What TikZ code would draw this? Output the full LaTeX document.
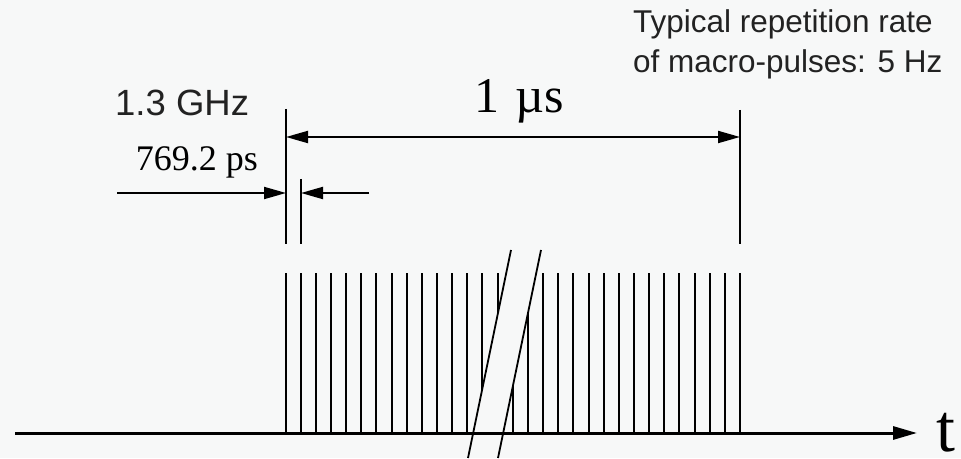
\documentclass[tikz,border=0pt]{standalone}
\usepackage{fontspec}
\setmainfont{Liberation Serif}
\newfontfamily\arialfont{Liberation Sans}
\usetikzlibrary{arrows.meta}
\definecolor{bgcol}{HTML}{F7F8F8}
\definecolor{txtgray}{HTML}{222222}
\tikzset{
  pulse/.style={line width=2pt},
  extline/.style={line width=2.3pt},
  dimline/.style={line width=2pt},
  sanslabel/.style={inner sep=0pt, text=txtgray, font=\arialfont\fontsize{36.5}{40}\selectfont},
  seriflabel/.style={inner sep=0pt, font=\fontsize{36}{40}\selectfont}
}
\begin{document}
\begin{tikzpicture}[x=1pt, y=1pt, >={Triangle[length=22pt,width=12pt]}]
	% 1. background and frame
	\fill[bgcol] (0,0) rectangle (961,458);
	\useasboundingbox (0,0) rectangle (961,458);
	
	% 2. pulse train (31 bunches)
	\foreach \i in {0,...,30}{
		\draw[pulse] ({285.5+15.15*\i},25) -- ({285.5+15.15*\i},185);
	}
	
	% 3. break of the train
	\fill[bgcol] (511,208) -- (541,208) -- (498,0) -- (468,0) -- cycle;
	
	% 4. time axis
	\coordinate (t0) at (15,25);
	\coordinate (t1) at (917,25);
	\draw[line width=3pt, -{Triangle[length=24pt,width=13pt]}] (t0) -- (t1);
	\node[anchor=base west, inner sep=0pt, font=\fontsize{68}{72}\selectfont] (tlab) at (936,7) {t};
	
	\draw[line width=1.8pt] (511,208) -- (468,0);
	\draw[line width=1.8pt] (541,208) -- (498,0);
	
	% 5. extension lines
	\coordinate (e1a) at (286,349);  \coordinate (e1b) at (286,214);
	\coordinate (e2a) at (301,279);  \coordinate (e2b) at (301,214);
	\coordinate (e3a) at (740,348);  \coordinate (e3b) at (740,214);
	\draw[extline] (e1a) -- (e1b);
	\draw[extline] (e2a) -- (e2b);
	\draw[extline] (e3a) -- (e3b);
	
	% 6. macro-pulse length
	\draw[dimline, <->] (286,321) -- (740,321);
	\node[anchor=base, inner sep=0pt, font=\fontsize{50}{54}\selectfont] (uslab) at (519,345) {1\,\,µs};
	
	% 7. bunch spacing
	\coordinate (sl) at (117,265);
	\coordinate (sr) at (369,265);
	\draw[dimline, ->] (sl) -- (286,265);
	\draw[dimline, ->] (sr) -- (301,265);
	\node[seriflabel, anchor=base] (pslab) at (197,287) {769.2 ps};
	\node[sanslabel, anchor=base west] (ghzlab) at (115,342) {1.3 GHz};
	
	% 8. repetition rate note
	\node[anchor=base west, inner sep=0pt, text=txtgray, align=left,
	      font=\arialfont\fontsize{31.5}{40}\selectfont] (replab) at (633,385)
	      {Typical repetition rate\\of macro-pulses: 5 Hz};
\end{tikzpicture}
\end{document}
